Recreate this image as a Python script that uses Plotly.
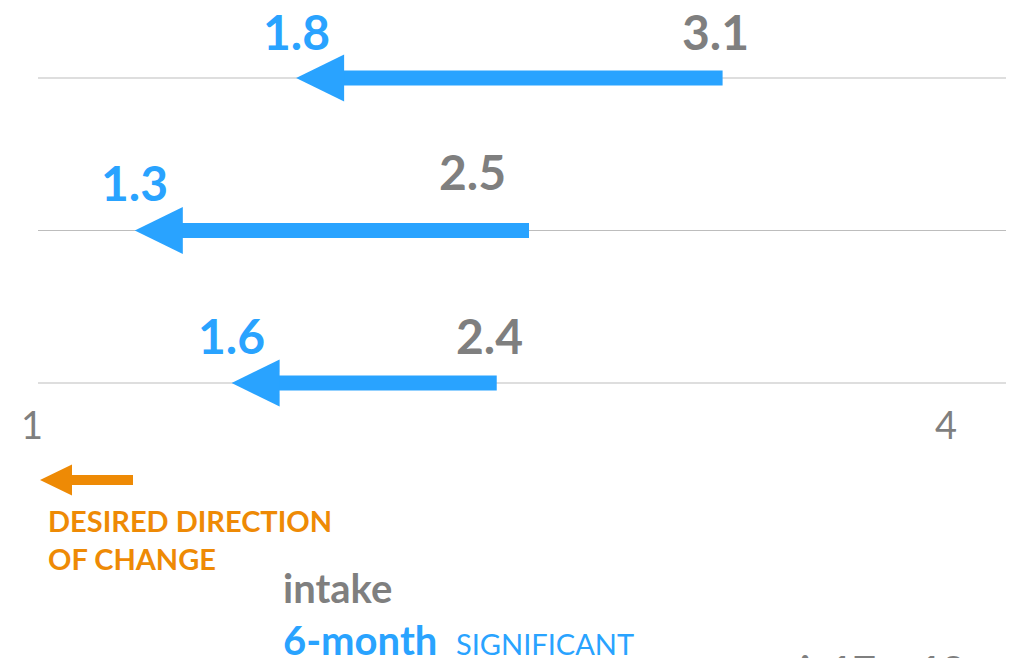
import plotly.graph_objects as go

# ---- data ----
rows = [3, 2, 1]                      # row positions, top to bottom
intake = [3.1, 2.5, 2.4]              # start values (grey)
six_month = [1.8, 1.3, 1.6]           # end values (blue)
intake_labels = ["3.1", "2.5", "2.4"]
six_month_labels = ["1.8", "1.3", "1.6"]
axis_min, axis_max = 1, 4
axis_labels = ["1", "4"]

# ---- style ----
BLUE = "#29A3FF"
GREY = "#7F7F7F"
ORANGE = "#EE8A05"
LINE = "#BDBDBD"
FONT = "Lato"

# page has an 8px body margin, so the figure is 8px smaller and offset
OFF = 8
W, H = 1010, 650
x_range = [0.90703, 4.03717]
y_range = [-0.80328, 3.45902]
px_per_x = W / (x_range[1] - x_range[0])
px_per_y = H / (y_range[1] - y_range[0])


def px(xp):
    return (xp - OFF) / W


def py(yp):
    return 1 - (yp - OFF) / H


head_len = 48 / px_per_x
head_half = 23.5 / px_per_y
tail_ext = 7 / px_per_x

fig = go.Figure()

# row baselines
for r in rows:
    fig.add_shape(type="line", x0=axis_min, x1=axis_max, y0=r, y1=r, xref="x", yref="y",
                  line=dict(color=LINE, width=1), layer="below")

# arrows
for r, s, e in zip(rows, intake, six_month):
    fig.add_trace(go.Scatter(x=[s + tail_ext, e + head_len * 0.98], y=[r, r], mode="lines",
                             line=dict(color=BLUE, width=15), hoverinfo="skip",
                             showlegend=False))
    fig.add_trace(go.Scatter(x=[e, e + head_len, e + head_len, e],
                             y=[r, r + head_half, r - head_half, r],
                             mode="lines", fill="toself", fillcolor=BLUE,
                             line=dict(color=BLUE, width=0), hoverinfo="skip",
                             showlegend=False))

# value labels
start_shift = [(0, 47), (-50, 59), (0, 48)]
end_shift = [(0, 47), (0, 48), (0, 48)]
for r, s, e, sl, el, ss, es in zip(rows, intake, six_month, intake_labels,
                                   six_month_labels, start_shift, end_shift):
    fig.add_annotation(x=s, y=r, text=f"<b>{sl}</b>", showarrow=False,
                       xshift=ss[0], yshift=ss[1], xanchor="center", yanchor="middle",
                       font=dict(family=FONT, size=48, color=GREY))
    fig.add_annotation(x=e, y=r, text=f"<b>{el}</b>", showarrow=False,
                       xshift=es[0], yshift=es[1], xanchor="center", yanchor="middle",
                       font=dict(family=FONT, size=48, color=BLUE))

# axis end labels
fig.add_annotation(x=axis_min, y=rows[-1], text=axis_labels[0], showarrow=False,
                   xshift=-6, yshift=-41, font=dict(family=FONT, size=38, color=GREY))
fig.add_annotation(x=axis_max, y=rows[-1], text=axis_labels[1], showarrow=False,
                   xshift=-60, yshift=-41, font=dict(family=FONT, size=38, color=GREY))

# desired direction arrow (decorative)
sx0, sx1, sy, sh = 70, 133, 480, 5
hx0, hx1, hh = 40, 72, 15.5
fig.add_shape(type="path", xref="paper", yref="paper", line=dict(width=0),
              fillcolor=ORANGE,
              path=(f"M{px(hx1 - 1)},{py(sy - sh)} L{px(sx1)},{py(sy - sh)} "
                    f"L{px(sx1)},{py(sy + sh)} L{px(hx1 - 1)},{py(sy + sh)} Z"))
fig.add_shape(type="path", xref="paper", yref="paper", line=dict(width=0),
              fillcolor=ORANGE,
              path=(f"M{px(hx0)},{py(sy)} L{px(hx1)},{py(sy - hh)} "
                    f"L{px(hx1)},{py(sy + hh)} Z"))
fig.add_annotation(x=px(46), y=py(539), xref="paper", yref="paper", showarrow=False,
                   text="<b>DESIRED DIRECTION<br>OF CHANGE</b>", align="left",
                   xanchor="left", yanchor="middle",
                   font=dict(family=FONT, size=29, color=ORANGE))

# legend texts
fig.add_annotation(x=px(281), y=py(588), xref="paper", yref="paper", showarrow=False,
                   text="<b>intake</b>", xanchor="left", yanchor="middle",
                   font=dict(family=FONT, size=40, color=GREY))
fig.add_annotation(x=px(281), y=py(640), xref="paper", yref="paper", showarrow=False,
                   text="<b>6-month</b>", xanchor="left", yanchor="middle",
                   font=dict(family=FONT, size=40, color=BLUE))
fig.add_annotation(x=px(454), y=py(643), xref="paper", yref="paper", showarrow=False,
                   text="SIGNIFICANT", xanchor="left", yanchor="middle",
                   font=dict(family=FONT, size=29, color=BLUE))
fig.add_annotation(x=px(798), y=py(670), xref="paper", yref="paper", showarrow=False,
                   text="<b>i  17 – 18</b>", xanchor="left", yanchor="middle",
                   font=dict(family=FONT, size=40, color=GREY))

fig.update_layout(
    width=W, height=H, autosize=False,
    margin=dict(l=0, r=0, t=0, b=0),
    paper_bgcolor="white", plot_bgcolor="white",
    xaxis=dict(range=x_range, visible=False, fixedrange=True),
    yaxis=dict(range=y_range, visible=False, fixedrange=True),
    showlegend=False,
)

fig.write_html("out.html")
